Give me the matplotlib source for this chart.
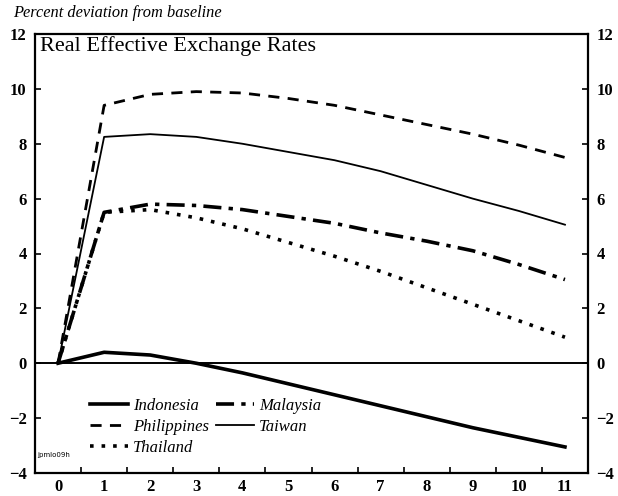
import matplotlib.pyplot as plt
from matplotlib.ticker import FixedLocator

plt.rcParams['font.family'] = ['Liberation Serif', 'DejaVu Serif']

periods = [0, 1, 2, 3, 4, 5, 6, 7, 8, 9, 10, 11]
indonesia = [0, 0.4, 0.3, 0.0, -0.35, -0.75, -1.15, -1.55, -1.95, -2.35, -2.7, -3.05]
philippines = [0, 9.4, 9.8, 9.9, 9.85, 9.65, 9.4, 9.05, 8.7, 8.35, 7.95, 7.5]
taiwan = [0, 8.25, 8.35, 8.25, 8.0, 7.7, 7.4, 7.0, 6.5, 6.0, 5.55, 5.05]
malaysia = [0, 5.5, 5.8, 5.75, 5.6, 5.35, 5.1, 4.75, 4.45, 4.1, 3.6, 3.05]
thailand = [0, 5.5, 5.6, 5.3, 4.9, 4.4, 3.9, 3.35, 2.75, 2.15, 1.55, 0.95]

y_ticks = [-4, -2, 0, 2, 4, 6, 8, 10, 12]

fig = plt.figure(figsize=(6.18, 4.96), dpi=100)
ax = fig.add_axes([35/618, 1-473/496, (588-35)/618, (473-34)/496])

ax.axhline(0, color='black', lw=1.4)

ax.plot(periods, indonesia, color='black', lw=2.6, label='Indonesia')
ax.plot(periods, philippines, color='black', lw=2.0, ls=(0, (4, 3)), label='Philippines')
ax.plot(periods, thailand, color='black', lw=2.6, ls=(0, (1, 2.2)), label='Thailand')
ax.plot(periods, malaysia, color='black', lw=2.6, ls=(0, (5, 2, 1.2, 2)), label='Malaysia')
ax.plot(periods, taiwan, color='black', lw=1.3, label='Taiwan')

ax.set_xlim(-0.5, 11.5)
ax.set_ylim(-4, 12)
ax.set_xticks(periods)
ax.xaxis.set_minor_locator(FixedLocator([i + 0.5 for i in periods[:-1]]))
ax.set_yticks(y_ticks)

for s in ax.spines.values():
    s.set_linewidth(1.6)

ax.tick_params(axis='x', which='major', length=0, pad=4, labelsize=12)
ax.tick_params(axis='x', which='minor', direction='in', length=4, width=1.2)
ax.tick_params(axis='y', direction='in', length=4.5, width=1.2, labelsize=12,
               left=True, right=True, labelleft=True, labelright=True, pad=6)
for lab in ax.get_xticklabels() + ax.get_yticklabels():
    lab.set_fontweight('bold')
for t in ax.yaxis.get_major_ticks():
    t.label2.set_fontweight('bold')

fig.text(40/618, 1-51/496, 'Real Effective Exchange Rates', fontsize=16, va='baseline', ha='left')
fig.text(13/618, 1-17/496, 'Percent deviation from baseline', fontsize=11.8, style='italic',
         va='baseline', ha='left')
ax.text(0.003, 0.035, 'jpmlo09h', transform=ax.transAxes, fontsize=5,
        family='DejaVu Sans', va='bottom', ha='left')

leg = ax.legend(loc='upper left', bbox_to_anchor=(90/618, 1-398/496),
                bbox_transform=fig.transFigure, ncol=2, frameon=False,
                prop={'style': 'italic', 'size': 12}, handlelength=2.3,
                handletextpad=0.3, columnspacing=0.4, labelspacing=0.3,
                borderpad=0, borderaxespad=0)

fig.savefig('out.png', dpi=100)
